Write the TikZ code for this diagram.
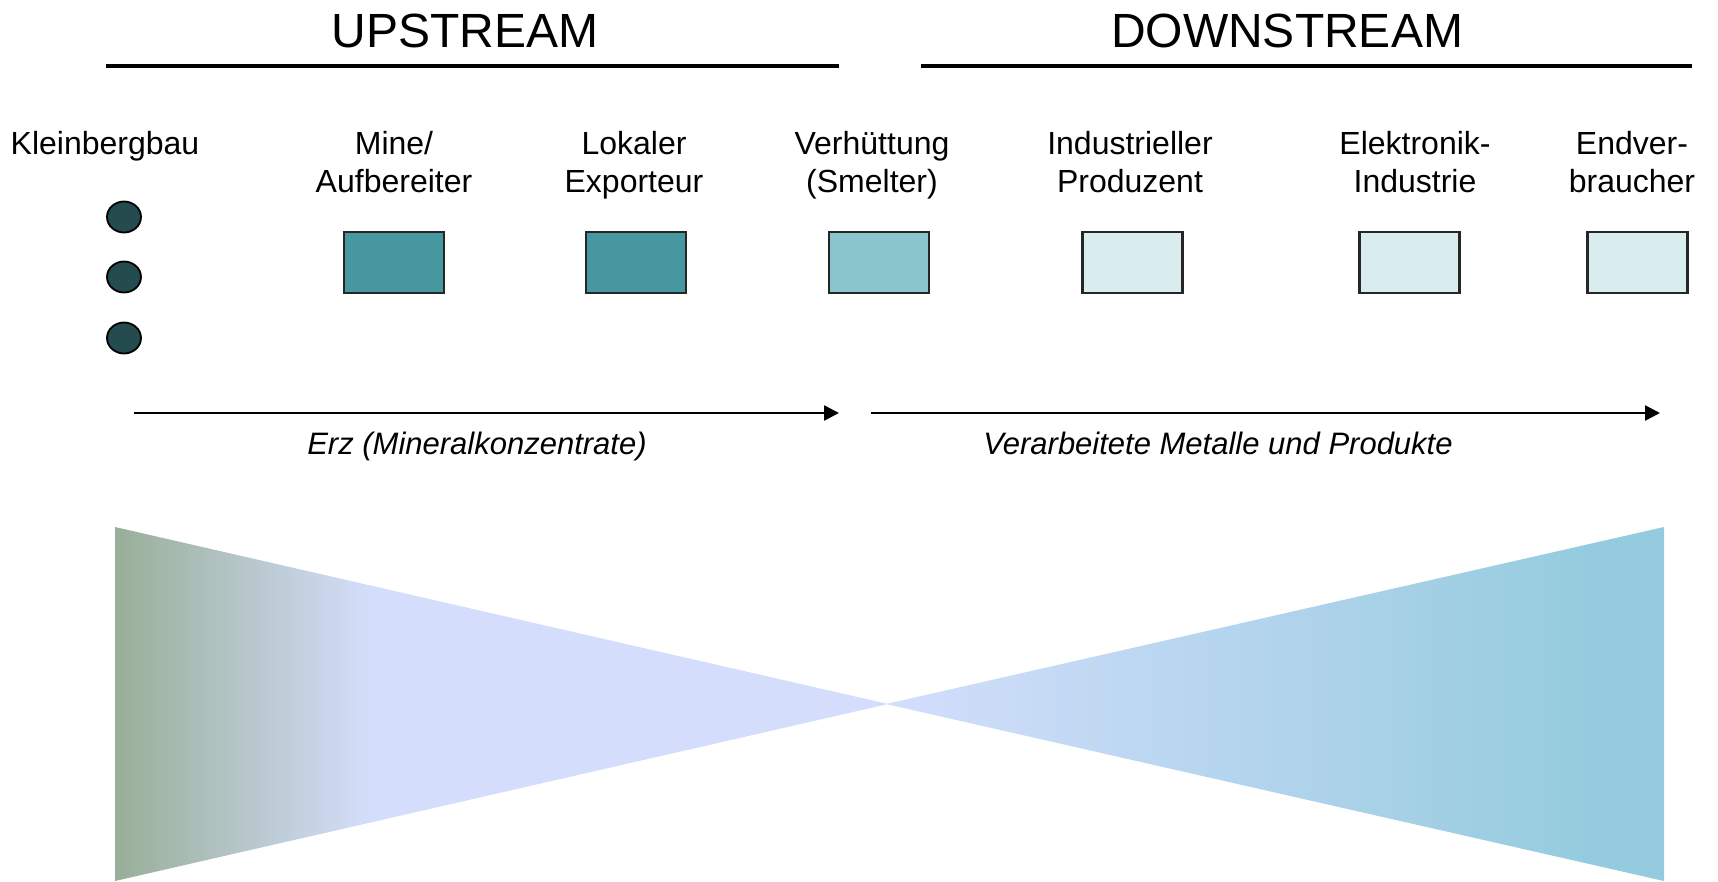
\documentclass[tikz,border=0pt]{standalone}
\usepackage{fontspec}
\setmainfont{Liberation Sans}
\usetikzlibrary{arrows.meta,shapes.geometric}
\definecolor{tealA}{HTML}{46979F}
\definecolor{tealB}{HTML}{8AC4CC}
\definecolor{tealC}{HTML}{D9ECEE}
\definecolor{dotc}{HTML}{244C4E}
\definecolor{greeny}{RGB}{152,174,152}
\definecolor{lav}{RGB}{212,222,252}
\definecolor{cyanish}{RGB}{148,203,222}
\begin{document}
\begin{tikzpicture}[x=1pt,y=-1pt,
  title/.style={font=\fontsize{48}{56}\selectfont, anchor=base, inner sep=0pt},
  rule/.style={line width=4.5pt},
  lbl/.style={font=\fontsize{32}{37.5}\selectfont, inner sep=0pt, anchor=center},
  flowlbl/.style={font=\fontsize{31}{36}\selectfont\itshape, inner sep=0pt, anchor=base},
  stagebox/.style={draw=black!85, line width=2.6pt, minimum width=100pt, minimum height=61pt, inner sep=0pt},
  minedot/.style={shape=ellipse, draw=black, line width=1.8pt, fill=dotc, minimum width=34pt, minimum height=31pt, inner sep=0pt},
  flow/.style={line width=2.5pt, -{Triangle[length=15pt,width=15pt]}}]
\useasboundingbox (0,0) rectangle (1718,881);

% funnels
\begin{scope}
  \clip (115,527) -- (115,881) -- (888,704) -- cycle;
  \shade[left color=greeny, right color=lav] (114,520) rectangle (372,890);
  \fill[lav] (371,520) rectangle (892,890);
\end{scope}
\begin{scope}
  \clip (1664,527) -- (1664,881) -- (886,704) -- cycle;
  \shade[left color=lav, right color=cyanish] (884,520) rectangle (1600,890);
  \fill[cyanish] (1599,520) rectangle (1666,890);
\end{scope}

% titles
\node[title] (up) at (465,47) {UPSTREAM};
\node[title] (down) at (1287,47) {DOWNSTREAM};
\coordinate (u1) at (106,66); \coordinate (u2) at (839,66);
\coordinate (d1) at (921,66); \coordinate (d2) at (1692,66);
\draw[rule] (u1) -- (u2);
\draw[rule] (d1) -- (d2);

% stage labels
\node[lbl, anchor=base] (klein) at (105,154.5) {Kleinbergbau};
\node[lbl] (mine) at (394,165.75) {\begin{tabular}{@{}c@{}}Mine/\\Aufbereiter\end{tabular}};
\node[lbl] (lokal) at (634,165.75) {\begin{tabular}{@{}c@{}}Lokaler\\Exporteur\end{tabular}};
\node[lbl] (verh) at (872,165.75) {\begin{tabular}{@{}c@{}}Verhüttung\\(Smelter)\end{tabular}};
\node[lbl] (indu) at (1130,165.75) {\begin{tabular}{@{}c@{}}Industrieller\\Produzent\end{tabular}};
\node[lbl] (elek) at (1415,165.75) {\begin{tabular}{@{}c@{}}Elektronik-\\Industrie\end{tabular}};
\node[lbl] (endv) at (1632,165.75) {\begin{tabular}{@{}c@{}}Endver-\\braucher\end{tabular}};

% dots
\node[minedot] (dot1) at (124,217) {};
\node[minedot] (dot2) at (124,277) {};
\node[minedot] (dot3) at (124,338) {};

% boxes
\node[stagebox, fill=tealA] (b1) at (394,262.5) {};
\node[stagebox, fill=tealA] (b2) at (636,262.5) {};
\node[stagebox, fill=tealB] (b3) at (879,262.5) {};
\node[stagebox, fill=tealC] (b4) at (1132.5,262.5) {};
\node[stagebox, fill=tealC] (b5) at (1409.5,262.5) {};
\node[stagebox, fill=tealC] (b6) at (1637.5,262.5) {};

% flow arrows
\coordinate (a1s) at (134,413); \coordinate (a1e) at (839,413);
\coordinate (a2s) at (871,413); \coordinate (a2e) at (1660,413);
\draw[flow] (a1s) -- (a1e);
\draw[flow] (a2s) -- (a2e);
\node[flowlbl] (erz) at (477,454) {Erz (Mineralkonzentrate)};
\node[flowlbl] (verarb) at (1218,454) {Verarbeitete Metalle und Produkte};
\end{tikzpicture}
\end{document}
